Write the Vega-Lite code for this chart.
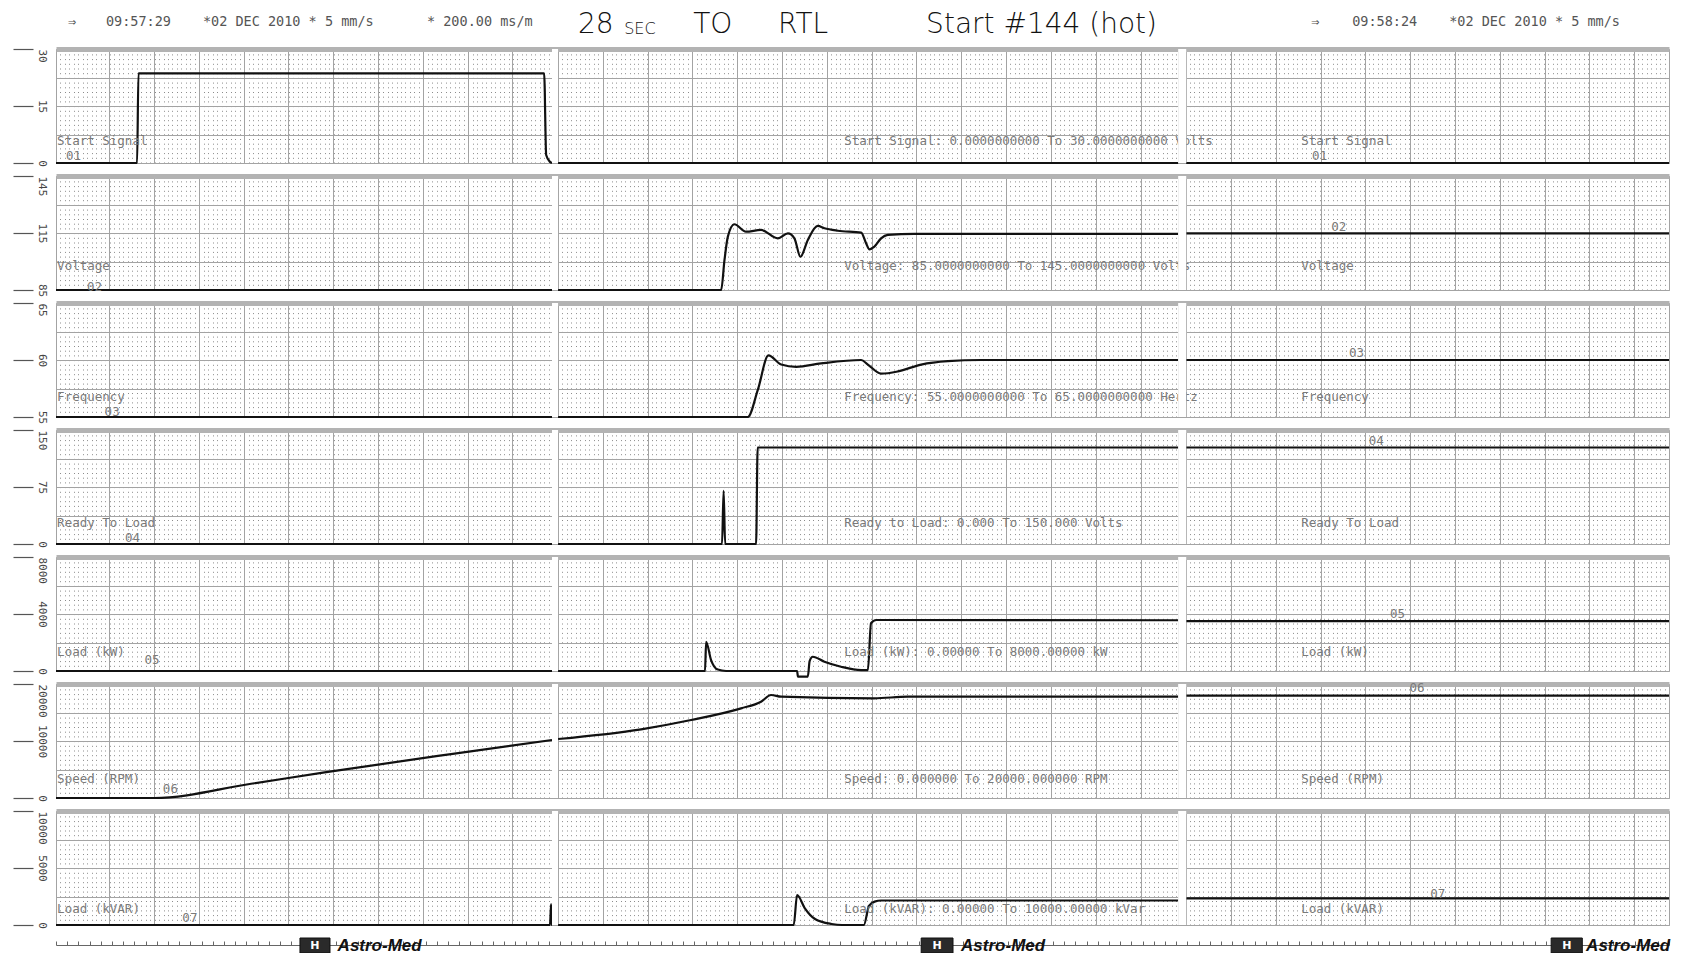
{
"$schema": "https://vega.github.io/schema/vega-lite/v6.json",
"padding": {"left": 12, "top": 0, "right": 0, "bottom": 0},
"autosize": {"type": "pad"},
"background": "white",
"bounds": "flush",
"spacing": 13,
"config": {"view": {"stroke": null}},
"datasets": {
"traces": [
{"ch":"start","page":1,"t":0,"value":0},{"ch":"start","page":1,"t":3.62,"value":0},{"ch":"start","page":1,"t":3.68,"value":23.6},{"ch":"start","page":1,"t":21.79,"value":23.6},{"ch":"start","page":1,"t":21.88,"value":2.1},{"ch":"start","page":1,"t":22.05,"value":0.3},{"ch":"start","page":1,"t":22.14,"value":0},
{"ch":"start","page":2,"t":22.41,"value":0},{"ch":"start","page":2,"t":50.09,"value":0},
{"ch":"start","page":3,"t":50.45,"value":0},{"ch":"start","page":3,"t":72,"value":0},
{"ch":"volt","page":1,"t":0,"value":85},{"ch":"volt","page":1,"t":22.14,"value":85},
{"ch":"volt","page":2,"t":22.41,"value":85},{"ch":"volt","page":2,"t":29.69,"value":85},{"ch":"volt","page":2,"t":29.84,"value":100.8},{"ch":"volt","page":2,"t":29.99,"value":113.1},{"ch":"volt","page":2,"t":30.28,"value":119.6},{"ch":"volt","page":2,"t":30.8,"value":115.7},{"ch":"volt","page":2,"t":31.47,"value":116.6},{"ch":"volt","page":2,"t":32.22,"value":112.2},{"ch":"volt","page":2,"t":32.67,"value":114.8},{"ch":"volt","page":2,"t":32.96,"value":112.2},{"ch":"volt","page":2,"t":33.23,"value":102.5},{"ch":"volt","page":2,"t":33.56,"value":111.3},{"ch":"volt","page":2,"t":34.0,"value":118.7},{"ch":"volt","page":2,"t":34.3,"value":117.5},{"ch":"volt","page":2,"t":34.9,"value":116.2},{"ch":"volt","page":2,"t":35.94,"value":115.2},{"ch":"volt","page":2,"t":36.16,"value":109.6},{"ch":"volt","page":2,"t":36.31,"value":106.4},{"ch":"volt","page":2,"t":36.53,"value":107.8},{"ch":"volt","page":2,"t":36.83,"value":112.2},{"ch":"volt","page":2,"t":37.13,"value":114.0},{"ch":"volt","page":2,"t":38.32,"value":114.5},{"ch":"volt","page":2,"t":50.09,"value":114.5},
{"ch":"volt","page":3,"t":50.45,"value":114.8},{"ch":"volt","page":3,"t":72,"value":114.8},
{"ch":"freq","page":1,"t":0,"value":55},{"ch":"freq","page":1,"t":22.14,"value":55},
{"ch":"freq","page":2,"t":22.41,"value":55},{"ch":"freq","page":2,"t":30.88,"value":55},{"ch":"freq","page":2,"t":31.33,"value":57.4},{"ch":"freq","page":2,"t":31.8,"value":60.4},{"ch":"freq","page":2,"t":32.37,"value":59.6},{"ch":"freq","page":2,"t":33.04,"value":59.4},{"ch":"freq","page":2,"t":34.15,"value":59.7},{"ch":"freq","page":2,"t":35.94,"value":60.0},{"ch":"freq","page":2,"t":36.24,"value":59.6},{"ch":"freq","page":2,"t":36.83,"value":58.8},{"ch":"freq","page":2,"t":37.58,"value":59.0},{"ch":"freq","page":2,"t":38.62,"value":59.6},{"ch":"freq","page":2,"t":39.81,"value":59.9},{"ch":"freq","page":2,"t":41.29,"value":60.0},{"ch":"freq","page":2,"t":50.09,"value":60.0},
{"ch":"freq","page":3,"t":50.45,"value":60.0},{"ch":"freq","page":3,"t":72,"value":60.0},
{"ch":"rtl","page":1,"t":0,"value":0},{"ch":"rtl","page":1,"t":22.14,"value":0},
{"ch":"rtl","page":2,"t":22.41,"value":0},{"ch":"rtl","page":2,"t":29.73,"value":0},{"ch":"rtl","page":2,"t":29.8,"value":70},{"ch":"rtl","page":2,"t":29.87,"value":0},{"ch":"rtl","page":2,"t":31.25,"value":0},{"ch":"rtl","page":2,"t":31.32,"value":127},{"ch":"rtl","page":2,"t":50.09,"value":127},
{"ch":"rtl","page":3,"t":50.45,"value":127},{"ch":"rtl","page":3,"t":72,"value":127},
{"ch":"kw","page":1,"t":0,"value":0},{"ch":"kw","page":1,"t":22.14,"value":0},
{"ch":"kw","page":2,"t":22.41,"value":0},{"ch":"kw","page":2,"t":28.97,"value":0},{"ch":"kw","page":2,"t":29.02,"value":2050},{"ch":"kw","page":2,"t":29.24,"value":770},{"ch":"kw","page":2,"t":29.54,"value":100},{"ch":"kw","page":2,"t":29.91,"value":0},{"ch":"kw","page":2,"t":33.08,"value":0},{"ch":"kw","page":2,"t":33.12,"value":-400},{"ch":"kw","page":2,"t":33.56,"value":-400},{"ch":"kw","page":2,"t":33.64,"value":700},{"ch":"kw","page":2,"t":33.78,"value":1000},{"ch":"kw","page":2,"t":34.3,"value":650},{"ch":"kw","page":2,"t":35.04,"value":300},{"ch":"kw","page":2,"t":35.94,"value":60},{"ch":"kw","page":2,"t":36.24,"value":60},{"ch":"kw","page":2,"t":36.38,"value":3350},{"ch":"kw","page":2,"t":36.61,"value":3580},{"ch":"kw","page":2,"t":50.09,"value":3560},
{"ch":"kw","page":3,"t":50.45,"value":3500},{"ch":"kw","page":3,"t":72,"value":3500},
{"ch":"rpm","page":1,"t":0,"value":0},{"ch":"rpm","page":1,"t":4.38,"value":0},{"ch":"rpm","page":1,"t":8.71,"value":2500},{"ch":"rpm","page":1,"t":11.99,"value":4500},{"ch":"rpm","page":1,"t":17.63,"value":7700},{"ch":"rpm","page":1,"t":22.14,"value":10170},
{"ch":"rpm","page":2,"t":22.41,"value":10350},{"ch":"rpm","page":2,"t":26.12,"value":12050},{"ch":"rpm","page":2,"t":28.35,"value":13680},{"ch":"rpm","page":2,"t":30.58,"value":15730},{"ch":"rpm","page":2,"t":31.47,"value":16890},{"ch":"rpm","page":2,"t":31.92,"value":18070},{"ch":"rpm","page":2,"t":32.37,"value":17770},{"ch":"rpm","page":2,"t":36.52,"value":17490},{"ch":"rpm","page":2,"t":38.02,"value":17770},{"ch":"rpm","page":2,"t":50.09,"value":17770},
{"ch":"rpm","page":3,"t":50.45,"value":17960},{"ch":"rpm","page":3,"t":72,"value":17960},
{"ch":"kvar","page":1,"t":0,"value":0},{"ch":"kvar","page":1,"t":22.05,"value":0},{"ch":"kvar","page":1,"t":22.1,"value":1840},{"ch":"kvar","page":1,"t":22.12,"value":0},{"ch":"kvar","page":1,"t":22.14,"value":0},
{"ch":"kvar","page":2,"t":22.41,"value":0},{"ch":"kvar","page":2,"t":32.93,"value":0},{"ch":"kvar","page":2,"t":33.08,"value":2630},{"ch":"kvar","page":2,"t":33.42,"value":1490},{"ch":"kvar","page":2,"t":33.88,"value":530},{"ch":"kvar","page":2,"t":34.62,"value":90},{"ch":"kvar","page":2,"t":35.09,"value":0},{"ch":"kvar","page":2,"t":36.06,"value":0},{"ch":"kvar","page":2,"t":36.29,"value":1670},{"ch":"kvar","page":2,"t":36.54,"value":2050},{"ch":"kvar","page":2,"t":36.83,"value":2150},{"ch":"kvar","page":2,"t":50.09,"value":2150},
{"ch":"kvar","page":3,"t":50.45,"value":2330},{"ch":"kvar","page":3,"t":72,"value":2330}
],
"notes": [
{"ch":"start","t":0.05,"value":5.8,"text":"Start Signal"},{"ch":"start","t":0.45,"value":1.8,"text":"01"},{"ch":"start","t":35.18,"value":5.8,"text":"Start Signal: 0.0000000000 To 30.0000000000 Volts"},{"ch":"start","t":55.58,"value":5.8,"text":"Start Signal"},{"ch":"start","t":56.07,"value":1.8,"text":"01"},
{"ch":"volt","t":0.05,"value":97.4,"text":"Voltage"},{"ch":"volt","t":1.38,"value":86.6,"text":"02"},{"ch":"volt","t":35.18,"value":97.4,"text":"Voltage: 85.0000000000 To 145.0000000000 Volts"},{"ch":"volt","t":55.58,"value":97.4,"text":"Voltage"},{"ch":"volt","t":56.92,"value":118.4,"text":"02"},
{"ch":"freq","t":0.05,"value":56.75,"text":"Frequency"},{"ch":"freq","t":2.17,"value":55.44,"text":"03"},{"ch":"freq","t":35.18,"value":56.75,"text":"Frequency: 55.0000000000 To 65.0000000000 Hertz"},{"ch":"freq","t":55.58,"value":56.75,"text":"Frequency"},{"ch":"freq","t":57.72,"value":60.64,"text":"03"},
{"ch":"rtl","t":0.05,"value":27.6,"text":"Ready To Load"},{"ch":"rtl","t":3.08,"value":7.9,"text":"04"},{"ch":"rtl","t":35.18,"value":27.6,"text":"Ready to Load: 0.000 To 150.000 Volts"},{"ch":"rtl","t":55.58,"value":27.6,"text":"Ready To Load"},{"ch":"rtl","t":58.6,"value":135.5,"text":"04"},
{"ch":"kw","t":0.05,"value":1300,"text":"Load (kW)"},{"ch":"kw","t":3.95,"value":772,"text":"05"},{"ch":"kw","t":35.18,"value":1300,"text":"Load (kW): 0.00000 To 8000.00000 kW"},{"ch":"kw","t":55.58,"value":1300,"text":"Load (kW)"},{"ch":"kw","t":59.55,"value":4030,"text":"05"},
{"ch":"rpm","t":0.05,"value":3385,"text":"Speed (RPM)"},{"ch":"rpm","t":4.77,"value":1580,"text":"06"},{"ch":"rpm","t":35.18,"value":3385,"text":"Speed: 0.000000 To 20000.000000 RPM"},{"ch":"rpm","t":55.58,"value":3385,"text":"Speed (RPM)"},{"ch":"rpm","t":60.42,"value":19294,"text":"06"},
{"ch":"kvar","t":0.05,"value":1403,"text":"Load (kVAR)"},{"ch":"kvar","t":5.64,"value":614,"text":"07"},{"ch":"kvar","t":35.18,"value":1403,"text":"Load (kVAR): 0.00000 To 10000.00000 kVar"},{"ch":"kvar","t":55.58,"value":1403,"text":"Load (kVAR)"},{"ch":"kvar","t":61.34,"value":2719,"text":"07"}
],
"gaps": [{"t":22.14,"t2":22.41},{"t":50.09,"t2":50.45}],
"header": [
{"kind":"print","t":0.54,"text":"⇒"},{"kind":"print","t":2.23,"text":"09:57:29"},{"kind":"print","t":6.56,"text":"*02 DEC 2010 * 5 mm/s"},{"kind":"print","t":16.56,"text":"* 200.00 ms/m"},
{"kind":"print","t":56.03,"text":"⇒"},{"kind":"print","t":57.86,"text":"09:58:24"},{"kind":"print","t":62.19,"text":"*02 DEC 2010 * 5 mm/s"},
{"kind":"hand","t":23.3,"text":"28"},{"kind":"small","t":25.36,"text":"SEC"},{"kind":"hand","t":28.44,"text":"TO"},{"kind":"hand","t":32.23,"text":"RTL"},{"kind":"hand","t":38.84,"text":"Start #144 (hot)"}
],
"logos": [
{"t":10.89,"t2":12.23,"tm":11.56,"tx":12.57,"brand":"Astro-Med","icon":"H"},
{"t":38.62,"t2":40.04,"tm":39.33,"tx":40.4,"brand":"Astro-Med","icon":"H"},
{"t":66.74,"t2":68.13,"tm":67.44,"tx":68.3,"brand":"Astro-Med","icon":"H"}
]
},
"vconcat": [
{
"width": 1613, "height": 36,
"layer": [
{"data": {"name": "header"}, "transform": [{"filter": "datum.kind == 'print'"}],
 "mark": {"type": "text", "align": "left", "baseline": "middle", "dy": 4, "font": "DejaVu Sans Mono", "fontSize": 13.5, "color": "#555"},
 "encoding": {"x": {"field": "t", "type": "quantitative", "scale": {"domain": [0, 72], "nice": false, "zero": false}, "axis": null}, "text": {"field": "text"}}},
{"data": {"name": "header"}, "transform": [{"filter": "datum.kind == 'hand'"}],
 "mark": {"type": "text", "align": "left", "baseline": "middle", "dy": 7, "font": "DejaVu Sans", "fontWeight": 200, "fontSize": 28, "color": "#111"},
 "encoding": {"x": {"field": "t", "type": "quantitative", "scale": {"domain": [0, 72], "nice": false, "zero": false}, "axis": null}, "text": {"field": "text"}}},
{"data": {"name": "header"}, "transform": [{"filter": "datum.kind == 'small'"}],
 "mark": {"type": "text", "align": "left", "baseline": "middle", "dy": 11, "font": "DejaVu Sans", "fontWeight": 200, "fontSize": 16, "color": "#111"},
 "encoding": {"x": {"field": "t", "type": "quantitative", "scale": {"domain": [0, 72], "nice": false, "zero": false}, "axis": null}, "text": {"field": "text"}}}
]
},
{
"width": 1613, "height": 114,
"resolve": {"axis": {"x": "independent", "y": "independent"}},
"layer": [
{"data": {"name": "traces"}, "transform": [{"filter": "datum.ch == 'start'"}],
 "mark": {"type": "line", "color": "#111", "strokeWidth": 2.2, "interpolate": "monotone"},
 "encoding": {
  "x": {"field": "t", "type": "quantitative", "scale": {"domain": [0, 72], "nice": false, "zero": false},
        "axis": {"orient": "top", "tickCount": 360, "title": null, "grid": true, "gridColor": "#8c8c8c", "gridDash": [1, 3.7], "gridWidth": 1, "ticks": false, "labels": false, "domain": true, "domainColor": "#b3b3b3", "domainWidth": 5}},
  "y": {"field": "value", "type": "quantitative", "scale": {"domain": [0, 30], "nice": false, "zero": false},
        "axis": {"orient": "left", "values": [0, 15, 30], "format": "d", "title": null, "grid": false, "domain": false, "ticks": true, "tickSize": 20, "tickColor": "#555", "tickWidth": 1.2, "offset": 23, "labelAngle": 90, "labelPadding": -28, "labelFont": "DejaVu Sans Mono", "labelFontSize": 11, "labelColor": "#444", "labelOverlap": false, "labelBaseline": "middle", "labelAlign": {"condition": {"test": "datum.value == 30", "value": "left"}, "value": "center"}}},
  "detail": {"field": "page", "type": "nominal"}}},
{"data": {"name": "notes"}, "transform": [{"filter": "datum.ch == 'start'"}],
 "mark": {"type": "text", "align": "left", "baseline": "middle", "font": "DejaVu Sans Mono", "fontSize": 12.5, "color": "#7a7a7a"},
 "encoding": {
  "x": {"field": "t", "type": "quantitative", "axis": null},
  "y": {"field": "value", "type": "quantitative", "axis": {"orient": "right", "values": [0, 7.5, 15, 22.5, 30], "title": null, "grid": true, "gridColor": "#a3a3a3", "gridWidth": 1, "ticks": false, "labels": false, "domain": false}},
  "text": {"field": "text"}}},
{"data": {"name": "gaps"}, "mark": {"type": "rect", "fill": "white"},
 "encoding": {
  "x": {"field": "t", "type": "quantitative", "axis": {"orient": "bottom", "values": [0, 2.37, 4.37, 6.37, 8.37, 10.37, 12.37, 14.37, 16.37, 18.37, 20.37, 22.14, 22.41, 24.41, 26.41, 28.41, 30.41, 32.41, 34.41, 36.41, 38.41, 40.41, 42.41, 44.41, 46.41, 48.41, 50.09, 50.45, 52.45, 54.45, 56.45, 58.45, 60.45, 62.45, 64.45, 66.45, 68.45, 70.45, 72], "title": null, "grid": true, "gridColor": "#a3a3a3", "gridWidth": 1, "ticks": false, "labels": false, "domain": false}},
  "x2": {"field": "t2"}}}
]
},
{
"width": 1613, "height": 114,
"resolve": {"axis": {"x": "independent", "y": "independent"}},
"layer": [
{"data": {"name": "traces"}, "transform": [{"filter": "datum.ch == 'volt'"}],
 "mark": {"type": "line", "color": "#111", "strokeWidth": 2.2, "interpolate": "monotone"},
 "encoding": {
  "x": {"field": "t", "type": "quantitative", "scale": {"domain": [0, 72], "nice": false, "zero": false},
        "axis": {"orient": "top", "tickCount": 360, "title": null, "grid": true, "gridColor": "#8c8c8c", "gridDash": [1, 3.7], "gridWidth": 1, "ticks": false, "labels": false, "domain": true, "domainColor": "#b3b3b3", "domainWidth": 5}},
  "y": {"field": "value", "type": "quantitative", "scale": {"domain": [85, 145], "nice": false, "zero": false},
        "axis": {"orient": "left", "values": [85, 115, 145], "format": "d", "title": null, "grid": false, "domain": false, "ticks": true, "tickSize": 20, "tickColor": "#555", "tickWidth": 1.2, "offset": 23, "labelAngle": 90, "labelPadding": -28, "labelFont": "DejaVu Sans Mono", "labelFontSize": 11, "labelColor": "#444", "labelOverlap": false, "labelBaseline": "middle", "labelAlign": {"condition": {"test": "datum.value == 145", "value": "left"}, "value": "center"}}},
  "detail": {"field": "page", "type": "nominal"}}},
{"data": {"name": "notes"}, "transform": [{"filter": "datum.ch == 'volt'"}],
 "mark": {"type": "text", "align": "left", "baseline": "middle", "font": "DejaVu Sans Mono", "fontSize": 12.5, "color": "#7a7a7a"},
 "encoding": {
  "x": {"field": "t", "type": "quantitative", "axis": null},
  "y": {"field": "value", "type": "quantitative", "axis": {"orient": "right", "values": [85, 100, 115, 130, 145], "title": null, "grid": true, "gridColor": "#a3a3a3", "gridWidth": 1, "ticks": false, "labels": false, "domain": false}},
  "text": {"field": "text"}}},
{"data": {"name": "gaps"}, "mark": {"type": "rect", "fill": "white"},
 "encoding": {
  "x": {"field": "t", "type": "quantitative", "axis": {"orient": "bottom", "values": [0, 2.37, 4.37, 6.37, 8.37, 10.37, 12.37, 14.37, 16.37, 18.37, 20.37, 22.14, 22.41, 24.41, 26.41, 28.41, 30.41, 32.41, 34.41, 36.41, 38.41, 40.41, 42.41, 44.41, 46.41, 48.41, 50.09, 50.45, 52.45, 54.45, 56.45, 58.45, 60.45, 62.45, 64.45, 66.45, 68.45, 70.45, 72], "title": null, "grid": true, "gridColor": "#a3a3a3", "gridWidth": 1, "ticks": false, "labels": false, "domain": false}},
  "x2": {"field": "t2"}}}
]
},
{
"width": 1613, "height": 114,
"resolve": {"axis": {"x": "independent", "y": "independent"}},
"layer": [
{"data": {"name": "traces"}, "transform": [{"filter": "datum.ch == 'freq'"}],
 "mark": {"type": "line", "color": "#111", "strokeWidth": 2.2, "interpolate": "monotone"},
 "encoding": {
  "x": {"field": "t", "type": "quantitative", "scale": {"domain": [0, 72], "nice": false, "zero": false},
        "axis": {"orient": "top", "tickCount": 360, "title": null, "grid": true, "gridColor": "#8c8c8c", "gridDash": [1, 3.7], "gridWidth": 1, "ticks": false, "labels": false, "domain": true, "domainColor": "#b3b3b3", "domainWidth": 5}},
  "y": {"field": "value", "type": "quantitative", "scale": {"domain": [55, 65], "nice": false, "zero": false},
        "axis": {"orient": "left", "values": [55, 60, 65], "format": "d", "title": null, "grid": false, "domain": false, "ticks": true, "tickSize": 20, "tickColor": "#555", "tickWidth": 1.2, "offset": 23, "labelAngle": 90, "labelPadding": -28, "labelFont": "DejaVu Sans Mono", "labelFontSize": 11, "labelColor": "#444", "labelOverlap": false, "labelBaseline": "middle", "labelAlign": {"condition": {"test": "datum.value == 65", "value": "left"}, "value": "center"}}},
  "detail": {"field": "page", "type": "nominal"}}},
{"data": {"name": "notes"}, "transform": [{"filter": "datum.ch == 'freq'"}],
 "mark": {"type": "text", "align": "left", "baseline": "middle", "font": "DejaVu Sans Mono", "fontSize": 12.5, "color": "#7a7a7a"},
 "encoding": {
  "x": {"field": "t", "type": "quantitative", "axis": null},
  "y": {"field": "value", "type": "quantitative", "axis": {"orient": "right", "values": [55, 57.5, 60, 62.5, 65], "title": null, "grid": true, "gridColor": "#a3a3a3", "gridWidth": 1, "ticks": false, "labels": false, "domain": false}},
  "text": {"field": "text"}}},
{"data": {"name": "gaps"}, "mark": {"type": "rect", "fill": "white"},
 "encoding": {
  "x": {"field": "t", "type": "quantitative", "axis": {"orient": "bottom", "values": [0, 2.37, 4.37, 6.37, 8.37, 10.37, 12.37, 14.37, 16.37, 18.37, 20.37, 22.14, 22.41, 24.41, 26.41, 28.41, 30.41, 32.41, 34.41, 36.41, 38.41, 40.41, 42.41, 44.41, 46.41, 48.41, 50.09, 50.45, 52.45, 54.45, 56.45, 58.45, 60.45, 62.45, 64.45, 66.45, 68.45, 70.45, 72], "title": null, "grid": true, "gridColor": "#a3a3a3", "gridWidth": 1, "ticks": false, "labels": false, "domain": false}},
  "x2": {"field": "t2"}}}
]
},
{
"width": 1613, "height": 114,
"resolve": {"axis": {"x": "independent", "y": "independent"}},
"layer": [
{"data": {"name": "traces"}, "transform": [{"filter": "datum.ch == 'rtl'"}],
 "mark": {"type": "line", "color": "#111", "strokeWidth": 2.2, "interpolate": "monotone"},
 "encoding": {
  "x": {"field": "t", "type": "quantitative", "scale": {"domain": [0, 72], "nice": false, "zero": false},
        "axis": {"orient": "top", "tickCount": 360, "title": null, "grid": true, "gridColor": "#8c8c8c", "gridDash": [1, 3.7], "gridWidth": 1, "ticks": false, "labels": false, "domain": true, "domainColor": "#b3b3b3", "domainWidth": 5}},
  "y": {"field": "value", "type": "quantitative", "scale": {"domain": [0, 150], "nice": false, "zero": false},
        "axis": {"orient": "left", "values": [0, 75, 150], "format": "d", "title": null, "grid": false, "domain": false, "ticks": true, "tickSize": 20, "tickColor": "#555", "tickWidth": 1.2, "offset": 23, "labelAngle": 90, "labelPadding": -28, "labelFont": "DejaVu Sans Mono", "labelFontSize": 11, "labelColor": "#444", "labelOverlap": false, "labelBaseline": "middle", "labelAlign": {"condition": {"test": "datum.value == 150", "value": "left"}, "value": "center"}}},
  "detail": {"field": "page", "type": "nominal"}}},
{"data": {"name": "notes"}, "transform": [{"filter": "datum.ch == 'rtl'"}],
 "mark": {"type": "text", "align": "left", "baseline": "middle", "font": "DejaVu Sans Mono", "fontSize": 12.5, "color": "#7a7a7a"},
 "encoding": {
  "x": {"field": "t", "type": "quantitative", "axis": null},
  "y": {"field": "value", "type": "quantitative", "axis": {"orient": "right", "values": [0, 37.5, 75, 112.5, 150], "title": null, "grid": true, "gridColor": "#a3a3a3", "gridWidth": 1, "ticks": false, "labels": false, "domain": false}},
  "text": {"field": "text"}}},
{"data": {"name": "gaps"}, "mark": {"type": "rect", "fill": "white"},
 "encoding": {
  "x": {"field": "t", "type": "quantitative", "axis": {"orient": "bottom", "values": [0, 2.37, 4.37, 6.37, 8.37, 10.37, 12.37, 14.37, 16.37, 18.37, 20.37, 22.14, 22.41, 24.41, 26.41, 28.41, 30.41, 32.41, 34.41, 36.41, 38.41, 40.41, 42.41, 44.41, 46.41, 48.41, 50.09, 50.45, 52.45, 54.45, 56.45, 58.45, 60.45, 62.45, 64.45, 66.45, 68.45, 70.45, 72], "title": null, "grid": true, "gridColor": "#a3a3a3", "gridWidth": 1, "ticks": false, "labels": false, "domain": false}},
  "x2": {"field": "t2"}}}
]
},
{
"width": 1613, "height": 114,
"resolve": {"axis": {"x": "independent", "y": "independent"}},
"layer": [
{"data": {"name": "traces"}, "transform": [{"filter": "datum.ch == 'kw'"}],
 "mark": {"type": "line", "color": "#111", "strokeWidth": 2.2, "interpolate": "monotone"},
 "encoding": {
  "x": {"field": "t", "type": "quantitative", "scale": {"domain": [0, 72], "nice": false, "zero": false},
        "axis": {"orient": "top", "tickCount": 360, "title": null, "grid": true, "gridColor": "#8c8c8c", "gridDash": [1, 3.7], "gridWidth": 1, "ticks": false, "labels": false, "domain": true, "domainColor": "#b3b3b3", "domainWidth": 5}},
  "y": {"field": "value", "type": "quantitative", "scale": {"domain": [0, 8000], "nice": false, "zero": false},
        "axis": {"orient": "left", "values": [0, 4000, 8000], "format": "d", "title": null, "grid": false, "domain": false, "ticks": true, "tickSize": 20, "tickColor": "#555", "tickWidth": 1.2, "offset": 23, "labelAngle": 90, "labelPadding": -28, "labelFont": "DejaVu Sans Mono", "labelFontSize": 11, "labelColor": "#444", "labelOverlap": false, "labelBaseline": "middle", "labelAlign": {"condition": {"test": "datum.value == 8000", "value": "left"}, "value": "center"}}},
  "detail": {"field": "page", "type": "nominal"}}},
{"data": {"name": "notes"}, "transform": [{"filter": "datum.ch == 'kw'"}],
 "mark": {"type": "text", "align": "left", "baseline": "middle", "font": "DejaVu Sans Mono", "fontSize": 12.5, "color": "#7a7a7a"},
 "encoding": {
  "x": {"field": "t", "type": "quantitative", "axis": null},
  "y": {"field": "value", "type": "quantitative", "axis": {"orient": "right", "values": [0, 2000, 4000, 6000, 8000], "title": null, "grid": true, "gridColor": "#a3a3a3", "gridWidth": 1, "ticks": false, "labels": false, "domain": false}},
  "text": {"field": "text"}}},
{"data": {"name": "gaps"}, "mark": {"type": "rect", "fill": "white"},
 "encoding": {
  "x": {"field": "t", "type": "quantitative", "axis": {"orient": "bottom", "values": [0, 2.37, 4.37, 6.37, 8.37, 10.37, 12.37, 14.37, 16.37, 18.37, 20.37, 22.14, 22.41, 24.41, 26.41, 28.41, 30.41, 32.41, 34.41, 36.41, 38.41, 40.41, 42.41, 44.41, 46.41, 48.41, 50.09, 50.45, 52.45, 54.45, 56.45, 58.45, 60.45, 62.45, 64.45, 66.45, 68.45, 70.45, 72], "title": null, "grid": true, "gridColor": "#a3a3a3", "gridWidth": 1, "ticks": false, "labels": false, "domain": false}},
  "x2": {"field": "t2"}}}
]
},
{
"width": 1613, "height": 114,
"resolve": {"axis": {"x": "independent", "y": "independent"}},
"layer": [
{"data": {"name": "traces"}, "transform": [{"filter": "datum.ch == 'rpm'"}],
 "mark": {"type": "line", "color": "#111", "strokeWidth": 2.2, "interpolate": "monotone"},
 "encoding": {
  "x": {"field": "t", "type": "quantitative", "scale": {"domain": [0, 72], "nice": false, "zero": false},
        "axis": {"orient": "top", "tickCount": 360, "title": null, "grid": true, "gridColor": "#8c8c8c", "gridDash": [1, 3.7], "gridWidth": 1, "ticks": false, "labels": false, "domain": true, "domainColor": "#b3b3b3", "domainWidth": 5}},
  "y": {"field": "value", "type": "quantitative", "scale": {"domain": [0, 20000], "nice": false, "zero": false},
        "axis": {"orient": "left", "values": [0, 10000, 20000], "format": "d", "title": null, "grid": false, "domain": false, "ticks": true, "tickSize": 20, "tickColor": "#555", "tickWidth": 1.2, "offset": 23, "labelAngle": 90, "labelPadding": -28, "labelFont": "DejaVu Sans Mono", "labelFontSize": 11, "labelColor": "#444", "labelOverlap": false, "labelBaseline": "middle", "labelAlign": {"condition": {"test": "datum.value == 20000", "value": "left"}, "value": "center"}}},
  "detail": {"field": "page", "type": "nominal"}}},
{"data": {"name": "notes"}, "transform": [{"filter": "datum.ch == 'rpm'"}],
 "mark": {"type": "text", "align": "left", "baseline": "middle", "font": "DejaVu Sans Mono", "fontSize": 12.5, "color": "#7a7a7a"},
 "encoding": {
  "x": {"field": "t", "type": "quantitative", "axis": null},
  "y": {"field": "value", "type": "quantitative", "axis": {"orient": "right", "values": [0, 5000, 10000, 15000, 20000], "title": null, "grid": true, "gridColor": "#a3a3a3", "gridWidth": 1, "ticks": false, "labels": false, "domain": false}},
  "text": {"field": "text"}}},
{"data": {"name": "gaps"}, "mark": {"type": "rect", "fill": "white"},
 "encoding": {
  "x": {"field": "t", "type": "quantitative", "axis": {"orient": "bottom", "values": [0, 2.37, 4.37, 6.37, 8.37, 10.37, 12.37, 14.37, 16.37, 18.37, 20.37, 22.14, 22.41, 24.41, 26.41, 28.41, 30.41, 32.41, 34.41, 36.41, 38.41, 40.41, 42.41, 44.41, 46.41, 48.41, 50.09, 50.45, 52.45, 54.45, 56.45, 58.45, 60.45, 62.45, 64.45, 66.45, 68.45, 70.45, 72], "title": null, "grid": true, "gridColor": "#a3a3a3", "gridWidth": 1, "ticks": false, "labels": false, "domain": false}},
  "x2": {"field": "t2"}}}
]
},
{
"width": 1613, "height": 114,
"resolve": {"axis": {"x": "independent", "y": "independent"}},
"layer": [
{"data": {"name": "traces"}, "transform": [{"filter": "datum.ch == 'kvar'"}],
 "mark": {"type": "line", "color": "#111", "strokeWidth": 2.2, "interpolate": "monotone"},
 "encoding": {
  "x": {"field": "t", "type": "quantitative", "scale": {"domain": [0, 72], "nice": false, "zero": false},
        "axis": {"orient": "top", "tickCount": 360, "title": null, "grid": true, "gridColor": "#8c8c8c", "gridDash": [1, 3.7], "gridWidth": 1, "ticks": false, "labels": false, "domain": true, "domainColor": "#b3b3b3", "domainWidth": 5}},
  "y": {"field": "value", "type": "quantitative", "scale": {"domain": [0, 10000], "nice": false, "zero": false},
        "axis": {"orient": "left", "values": [0, 5000, 10000], "format": "d", "title": null, "grid": false, "domain": false, "ticks": true, "tickSize": 20, "tickColor": "#555", "tickWidth": 1.2, "offset": 23, "labelAngle": 90, "labelPadding": -28, "labelFont": "DejaVu Sans Mono", "labelFontSize": 11, "labelColor": "#444", "labelOverlap": false, "labelBaseline": "middle", "labelAlign": {"condition": {"test": "datum.value == 10000", "value": "left"}, "value": "center"}}},
  "detail": {"field": "page", "type": "nominal"}}},
{"data": {"name": "notes"}, "transform": [{"filter": "datum.ch == 'kvar'"}],
 "mark": {"type": "text", "align": "left", "baseline": "middle", "font": "DejaVu Sans Mono", "fontSize": 12.5, "color": "#7a7a7a"},
 "encoding": {
  "x": {"field": "t", "type": "quantitative", "axis": null},
  "y": {"field": "value", "type": "quantitative", "axis": {"orient": "right", "values": [0, 2500, 5000, 7500, 10000], "title": null, "grid": true, "gridColor": "#a3a3a3", "gridWidth": 1, "ticks": false, "labels": false, "domain": false}},
  "text": {"field": "text"}}},
{"data": {"name": "gaps"}, "mark": {"type": "rect", "fill": "white"},
 "encoding": {
  "x": {"field": "t", "type": "quantitative", "axis": {"orient": "bottom", "values": [0, 2.37, 4.37, 6.37, 8.37, 10.37, 12.37, 14.37, 16.37, 18.37, 20.37, 22.14, 22.41, 24.41, 26.41, 28.41, 30.41, 32.41, 34.41, 36.41, 38.41, 40.41, 42.41, 44.41, 46.41, 48.41, 50.09, 50.45, 52.45, 54.45, 56.45, 58.45, 60.45, 62.45, 64.45, 66.45, 68.45, 70.45, 72], "title": null, "grid": true, "gridColor": "#a3a3a3", "gridWidth": 1, "ticks": false, "labels": false, "domain": false}},
  "x2": {"field": "t2"}}}
]
},
{
"width": 1613, "height": 15,
"layer": [
{"data": {"name": "logos"}, "mark": {"type": "rect", "fill": "#2a2a2a", "stroke": "#111", "strokeWidth": 1},
 "encoding": {
  "x": {"field": "t", "type": "quantitative", "scale": {"domain": [0, 72], "nice": false, "zero": false},
        "axis": {"orient": "top", "offset": -7, "tickCount": 150, "tickSize": 4, "tickColor": "#666", "domain": true, "domainColor": "#666", "labels": false, "grid": false, "title": null}},
  "x2": {"field": "t2"}}},
{"data": {"name": "logos"}, "mark": {"type": "text", "align": "center", "baseline": "middle", "font": "DejaVu Sans", "fontWeight": "bold", "fontSize": 11, "color": "white"},
 "encoding": {"x": {"field": "tm", "type": "quantitative"}, "text": {"field": "icon"}}},
{"data": {"name": "logos"}, "mark": {"type": "text", "align": "left", "baseline": "middle", "font": "Liberation Sans", "fontWeight": "bold", "fontStyle": "italic", "fontSize": 17, "color": "#111"},
 "encoding": {"x": {"field": "tx", "type": "quantitative"}, "text": {"field": "brand"}}}
]
}
]
}
